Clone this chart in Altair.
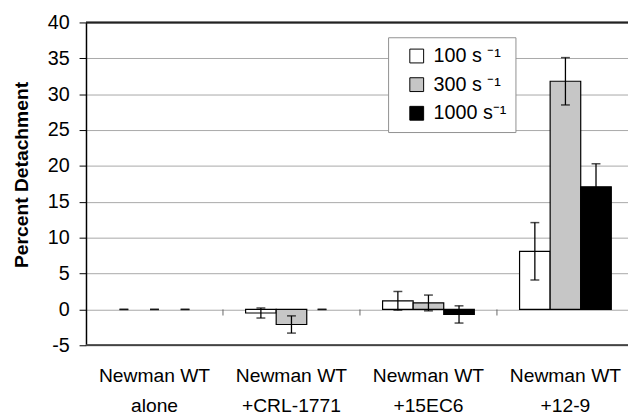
import altair as alt
import pandas as pd

categories = ["Newman WT|alone", "Newman WT|+CRL-1771", "Newman WT|+15EC6", "Newman WT|+12-9"]
series = ["100 s \u207b\u00b9", "300 s \u207b\u00b9", "1000 s\u207b\u00b9"]

vals_100 = [0, -0.5, 1.2, 8.1]
vals_300 = [0, -2.1, 0.9, 31.8]
vals_1000 = [0, 0, -0.7, 17.1]
err_100 = [0, 0.7, 1.3, 4.0]
err_300 = [0, 1.2, 1.1, 3.3]
err_1000 = [0, 0, 1.2, 3.2]

y_ticks = [-5, 0, 5, 10, 15, 20, 25, 30, 35, 40]
colors = ["white", "#c6c6c6", "black"]

rows = []
for s, vs, es in zip(series, [vals_100, vals_300, vals_1000], [err_100, err_300, err_1000]):
    for c, v, e in zip(categories, vs, es):
        rows.append({"cat": c, "series": s, "value": v, "lo": v - e, "hi": v + e})
df = pd.DataFrame(rows)
bounds = pd.DataFrame({"cat": categories[1:]})

FONT = "Liberation Sans"

x_axis = alt.Axis(labelExpr="split(datum.label, '|')", labelAngle=0, labelAlign="center",
                  domain=False, ticks=False,
                  labelFontSize=19.5, labelFont=FONT, labelColor="black", labelPadding=22,
                  labelLineHeight=30, labelBaseline="top")
x_scale = alt.Scale(paddingInner=0, paddingOuter=0)
y_axis = alt.Axis(values=y_ticks, grid=True, gridColor="#a8a8a8", gridWidth=1,
                  labelOverlap=False, labelFlush=False, labelExpr="'' + datum.value",
                  domainColor="black", domainWidth=1.5, tickColor="black", tickSize=7,
                  labelFontSize=20, labelFont=FONT, labelColor="black", labelPadding=10,
                  titleFont=FONT, titleFontSize=19.5, titleFontWeight="bold", titleColor="black",
                  titleX=-65, titleY=154, titleAlign="center", titleBaseline="middle")
y_scale = alt.Scale(domain=[-5, 40], nice=False, zero=False)
YT = "Percent Detachment"


def X(**kw):
    return alt.X("cat:N", sort=categories, title=None, scale=x_scale, axis=x_axis, **kw)


def Y(field=None, datum=None):
    if datum is not None:
        return alt.Y(datum=datum, scale=y_scale, axis=y_axis, title=YT)
    return alt.Y(field, scale=y_scale, axis=y_axis, title=YT)


xo_enc = alt.XOffset("series:N", sort=series, scale=alt.Scale(paddingOuter=0.74, paddingInner=0))

base = alt.Chart(df)

bars = base.transform_filter("datum.value != 0").mark_bar(stroke="black", strokeWidth=1.2).encode(
    x=X(),
    xOffset=xo_enc,
    y=Y("value:Q"),
    y2=alt.datum(0),
    color=alt.Color("series:N", sort=series,
                    scale=alt.Scale(domain=series, range=colors),
                    legend=alt.Legend(title=None, orient="none", legendX=306, legendY=15,
                                      padding=9, strokeColor="#909090", fillColor="white",
                                      symbolType="square", symbolSize=196, symbolStrokeColor="black",
                                      symbolStrokeWidth=1, symbolOffset=10, labelFontSize=20,
                                      labelFont=FONT, labelColor="black", rowPadding=9,
                                      labelOffset=7)),
)

err_rule = base.mark_rule(color="black", strokeWidth=1.3).encode(
    x=X(), xOffset=xo_enc, y=Y("lo:Q"), y2="hi:Q",
)
cap_lo = base.mark_tick(color="black", size=9, thickness=1.5, orient="horizontal").encode(
    x=X(), xOffset=xo_enc, y=Y("lo:Q"),
)
cap_hi = base.mark_tick(color="black", size=9, thickness=1.5, orient="horizontal").encode(
    x=X(), xOffset=xo_enc, y=Y("hi:Q"),
)

bound_ticks = alt.Chart(bounds).mark_rule(color="#666", strokeWidth=1).encode(
    x=X(bandPosition=0), y=Y(datum=0), y2=alt.datum(-0.85),
)

top_border = alt.Chart(bounds).mark_rule(color="#222", strokeWidth=1.5).encode(
    x=alt.value(0), x2=alt.value(560), y=Y(datum=40)
)
bottom_border = alt.Chart(bounds).mark_rule(color="#444", strokeWidth=1.5).encode(
    x=alt.value(0), x2=alt.value(560), y=Y(datum=-5)
)

chart = alt.layer(bars, top_border, bottom_border, bound_ticks, err_rule, cap_lo, cap_hi).properties(
    width=555, height=327,
    autosize=alt.AutoSizeParams(type="none"),
    padding={"left": 79, "top": 12, "right": -6, "bottom": 70},
).configure_view(stroke=None).configure(background="white").configure_axisY(
    labelOverlap=False, labelFlush=False
)

chart.save("out.html", embed_options={"renderer": "svg", "actions": False})
